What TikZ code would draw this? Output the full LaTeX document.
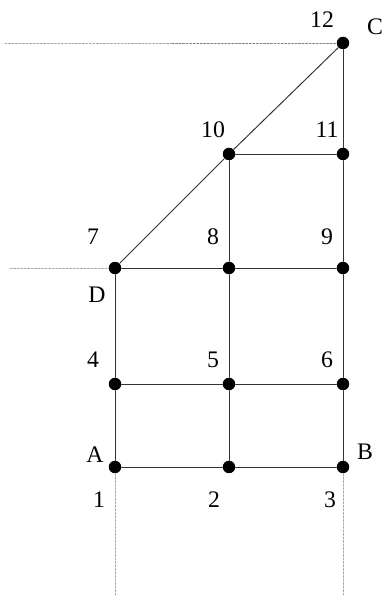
\documentclass[tikz,border=0pt]{standalone}
\usepackage{fontspec}
\setmainfont{Liberation Serif}
\usetikzlibrary{positioning}

\begin{document}
\begin{tikzpicture}[x=0.02cm,y=0.02cm,font=\fontsize{13.5}{15}\selectfont,line cap=round,
  dot/.style={circle,fill=black,inner sep=0pt,minimum size=0.25cm},
  bar/.style={black!80,line width=0.55pt},
  guide/.style={gray!70,dashed,dash pattern=on 1.2pt off 0.8pt,line width=0.35pt}]
\useasboundingbox (0,0) rectangle (382,596);
% joints
\node[dot] (n1) at (115,129) {};
\node[dot] (n2) at (229,129) {};
\node[dot] (n3) at (343,129) {};
\node[dot] (n4) at (115,212) {};
\node[dot] (n5) at (229,212) {};
\node[dot] (n6) at (343,212) {};
\node[dot] (n7) at (115,328) {};
\node[dot] (n8) at (229,328) {};
\node[dot] (n9) at (343,328) {};
\node[dot] (n10) at (229,442) {};
\node[dot] (n11) at (343,442) {};
\node[dot] (n12) at (343,553) {};
% guide lines
\coordinate (g1) at (5,553);
\coordinate (g1m) at (172,553);
\coordinate (g7) at (10,328);
\coordinate (g1b) at (115,0);
\coordinate (g3b) at (343,0);
\draw[guide] (g1) -- (g1m);
\draw[guide,gray] (g1m) -- (n12);
\draw[guide] (g7) -- (n7);
\draw[guide] (n1) -- (g1b);
\draw[guide] (n3) -- (g3b);
% members
\draw[bar] (n1) -- (n2) -- (n3);
\draw[bar] (n4) -- (n5) -- (n6);
\draw[bar] (n7) -- (n8) -- (n9);
\draw[bar] (n10) -- (n11);
\draw[bar] (n1) -- (n4) -- (n7);
\draw[bar] (n2) -- (n5) -- (n8) -- (n10);
\draw[bar] (n3) -- (n6) -- (n9) -- (n11) -- (n12);
\draw[bar] (n7) -- (n10) -- (n12);
% labels
\node (l1) at (99,96) {1};
\node (l2) at (214,96) {2};
\node (l3) at (330,96) {3};
\node (l4) at (93,236) {4};
\node (l5) at (213,236) {5};
\node (l6) at (327,236) {6};
\node (l7) at (93,359) {7};
\node (l8) at (213,359) {8};
\node (l9) at (327,359) {9};
\node (l10) at (213,466) {10};
\node (l11) at (327,466) {11};
\node (l12) at (322,576) {12};
\node (lA) at (95,141) {A};
\node (lB) at (365,144) {B};
\node (lC) at (375,569) {C};
\node (lD) at (97,301) {D};
\end{tikzpicture}
\end{document}
